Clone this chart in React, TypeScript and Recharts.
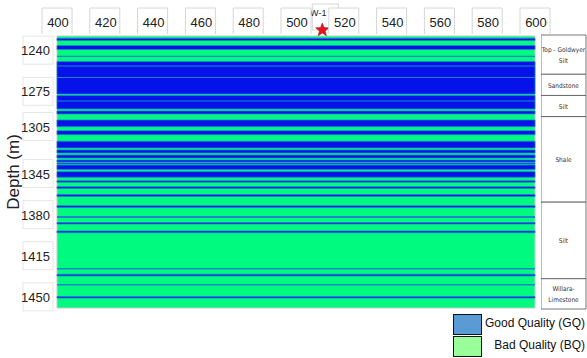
import React from 'react';
import { ComposedChart, XAxis, YAxis, ReferenceArea, ReferenceDot } from 'recharts';

// x axis (top) and depth axis
const xTicks = [400, 420, 440, 460, 480, 500, 520, 540, 560, 580, 600];
const depthTicks = [1240, 1275, 1305, 1345, 1380, 1415, 1450];
const DEPTH_MIN = 1227.9;
const DEPTH_MAX = 1459.5;

// good quality (GQ) intervals, depth in m; the rest is bad quality (BQ)
const gqTop = [1229.9, 1236.0, 1249.6, 1278.6, 1291.7, 1299.4, 1308.5, 1317.5, 1324.9, 1329.2, 1333.5, 1336.0, 1337.7, 1343.4, 1351.1, 1356.2, 1362.8, 1372.4, 1386.7, 1393.9, 1430.8, 1449.7];
const gqBottom = [1231.7, 1239.4, 1277.3, 1290.0, 1294.3, 1305.1, 1311.9, 1323.2, 1327.5, 1331.8, 1335.2, 1336.9, 1341.5, 1348.2, 1352.4, 1357.7, 1364.5, 1373.9, 1388.0, 1395.4, 1432.2, 1451.0];

// thin mixed / transition lines
const mixTop = [1244.7, 1253.0, 1262.8, 1282.8, 1381.1, 1425.4, 1439.0];
const mixBottom = [1245.8, 1253.9, 1263.7, 1283.7, 1382.8, 1426.7, 1440.3];

// formations column
const formationTop = [1227.9, 1261.1, 1279.0, 1296.9, 1369.2, 1433.9];
const formationBottom = [1261.1, 1279.0, 1296.9, 1369.2, 1433.9, 1459.5];
const formationName = [['Top - Goldwyer', 'Silt'], ['Sandstone'], ['Silt'], ['Shale'], ['Silt'], ['Willara-', 'Limestone']];

// well marker
const wellName = ['W-1'];
const wellX = [511];

const legendLabels = ['Good Quality (GQ)', 'Bad Quality (BQ)'];
const legendColors = ['#5b9bd5', '#99ff99'];

const GREEN = '#00fa80';
const BLUE = '#0512ea';
const MIX = '#1e86c8';
const FONT = '"Liberation Sans", Arial, sans-serif';

const XTick = (props: any) => {
  const { x, payload } = props;
  return (
    <g>
      <path d={`M${x - 15},34 L${x - 15},8 L${x + 15},8 L${x + 15},34`} fill="#fff" stroke="#d6d6d6" />
      <text x={x + 1} y={27} textAnchor="middle" fontSize={13} fontFamily={FONT} fill="#222">
        {payload.value}
      </text>
    </g>
  );
};

const YTick = (props: any) => {
  const { y, payload } = props;
  return (
    <g>
      <rect x={23} y={y - 14} width={30} height={28} fill="#fff" stroke="#e6e6e6" />
      <text x={50} y={y + 5} textAnchor="end" fontSize={13} fontFamily={FONT} fill="#222">
        {payload.value}
      </text>
    </g>
  );
};

const DepthLabel = (props: any) => {
  const vb = props.viewBox;
  const cy = vb.y + vb.height / 2;
  return (
    <text x={19} y={cy} transform={`rotate(-90 19 ${cy})`} textAnchor="middle" fontSize={17} fontFamily={FONT} fill="#222">
      Depth (m)
    </text>
  );
};

const Star = (props: any) => {
  const { cx, cy } = props;
  const pts: string[] = [];
  for (let i = 0; i < 10; i++) {
    const r = i % 2 === 0 ? 7 : 3;
    const a = -Math.PI / 2 + (i * Math.PI) / 5;
    pts.push(`${cx + r * Math.cos(a)},${cy + r * Math.sin(a)}`);
  }
  return (
    <g>
      <rect x={cx - 10} y={cy - 26} width={26} height={26} fill="#fff" stroke="#d6d6d6" />
      <text x={cx - 4} y={cy - 14} textAnchor="middle" fontSize={9} fontFamily={FONT} fill="#222">
        {wellName[0]}
      </text>
      <polygon points={pts.join(' ')} fill="#e8141c" stroke="#8a0a0a" strokeWidth={0.5} />
    </g>
  );
};

const FormationLabel = (idx: number) => (props: any) => {
  const vb = props.viewBox;
  const lines = formationName[idx];
  const cx = vb.x + vb.width / 2;
  const cy = vb.y + vb.height / 2;
  return (
    <text x={cx} textAnchor="middle" fontSize={6.5} fontFamily='"DejaVu Sans Condensed", "Liberation Sans Narrow", sans-serif' fill="#333">
      {lines.map((l, i) => (
        <tspan key={i} x={cx} y={cy + 3 + (i - (lines.length - 1) / 2) * 11}>
          {l}
        </tspan>
      ))}
    </text>
  );
};

export default function App() {
  const data = wellX.map((x) => ({ x, y: DEPTH_MIN }));
  return (
    <div style={{ position: 'fixed', left: 0, top: 0, width: 587, height: 358, background: '#fff' }}>
      <div style={{ position: 'absolute', left: 0, top: 0 }}>
        <ComposedChart width={587} height={358} data={data} margin={{ top: 0, right: 52, bottom: 50, left: 0 }}>
          <XAxis
            xAxisId="x"
            dataKey="x"
            type="number"
            orientation="top"
            domain={[400, 600]}
            ticks={xTicks}
            allowDataOverflow
            axisLine={false}
            tickLine={false}
            height={36}
            tick={<XTick />}
            interval={0}
          />
          <YAxis
            yAxisId="y"
            dataKey="y"
            type="number"
            reversed
            domain={[DEPTH_MIN, DEPTH_MAX]}
            ticks={depthTicks}
            allowDataOverflow
            axisLine={false}
            tickLine={false}
            width={57}
            tick={<YTick />}
            interval={0}
            label={<DepthLabel />}
          />
          <ReferenceArea xAxisId="x" yAxisId="y" x1={400} x2={600} y1={DEPTH_MIN} y2={DEPTH_MAX} fill={GREEN} fillOpacity={1} stroke="#c8c8c8" />
          {gqTop.map((t, i) => (
            <ReferenceArea key={`gq${i}`} xAxisId="x" yAxisId="y" x1={400} x2={600} y1={t} y2={gqBottom[i]} fill={BLUE} fillOpacity={1} stroke={MIX} strokeWidth={0.8} />
          ))}
          {mixTop.map((t, i) => (
            <ReferenceArea key={`mx${i}`} xAxisId="x" yAxisId="y" x1={400} x2={600} y1={t} y2={mixBottom[i]} fill={MIX} fillOpacity={1} />
          ))}
          {wellX.map((x, i) => (
            <ReferenceDot key={`w${i}`} xAxisId="x" yAxisId="y" x={x} y={1222.8} ifOverflow="visible" shape={<Star />} />
          ))}
        </ComposedChart>
      </div>
      <div style={{ position: 'absolute', left: 541, top: 0 }}>
        <ComposedChart width={46} height={358} data={[{ a: 0 }, { a: 1 }]} margin={{ top: 35, right: 1, bottom: 49, left: 0 }}>
          <XAxis xAxisId="f" dataKey="a" type="number" domain={[0, 1]} hide />
          <YAxis yAxisId="f" type="number" reversed domain={[DEPTH_MIN, DEPTH_MAX]} allowDataOverflow hide />
          {formationTop.map((t, i) => (
            <ReferenceArea
              key={`f${i}`}
              xAxisId="f"
              yAxisId="f"
              x1={0}
              x2={1}
              y1={t}
              y2={formationBottom[i]}
              fill="#fff"
              fillOpacity={1}
              stroke="#555"
              strokeWidth={0.8}
              label={FormationLabel(i)}
            />
          ))}
        </ComposedChart>
      </div>
      {legendLabels.map((l, i) => (
        <div key={l} style={{ position: 'absolute', left: 453, top: 314 + i * 22, width: 132, height: 22 }}>
          <div style={{ position: 'absolute', left: 0, top: 0, width: 29, height: 21, background: legendColors[i], border: '1.5px solid #111', boxSizing: 'border-box' }} />
          <div style={{ position: 'absolute', right: 0, top: 2, fontSize: 12, fontFamily: FONT, color: '#111', whiteSpace: 'nowrap' }}>{l}</div>
        </div>
      ))}
    </div>
  );
}
